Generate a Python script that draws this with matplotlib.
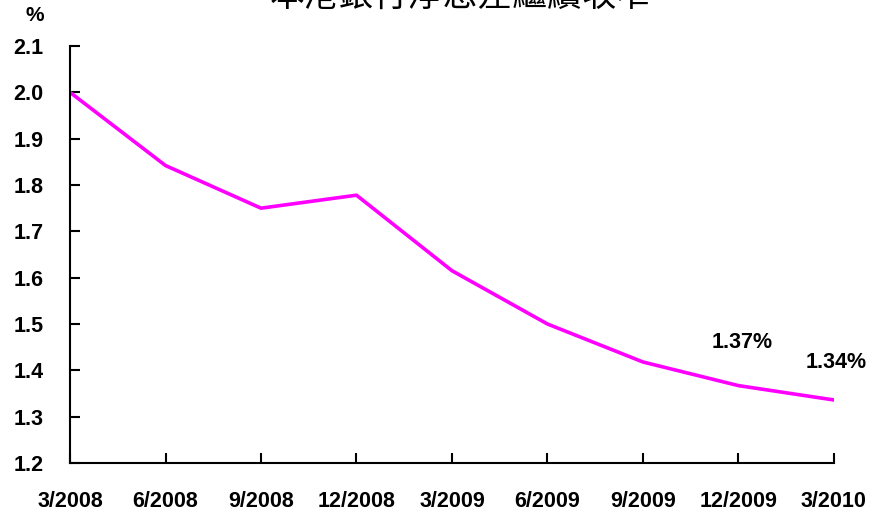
import matplotlib
matplotlib.use('Agg')
import matplotlib.pyplot as plt

plt.rcParams['font.family'] = ['Liberation Sans', 'DejaVu Sans']

quarters = ['3/2008', '6/2008', '9/2008', '12/2008', '3/2009', '6/2009', '9/2009', '12/2009', '3/2010']
margin = [2.00, 1.842, 1.75, 1.778, 1.615, 1.50, 1.418, 1.367, 1.336]
yticks = [1.2, 1.3, 1.4, 1.5, 1.6, 1.7, 1.8, 1.9, 2.0, 2.1]
title = '本港銀行淨息差繼續收窄'
labels = {7: '1.37%', 8: '1.34%'}

fig = plt.figure(figsize=(8.71, 5.13), dpi=100)
ax = fig.add_axes([0.0804, 0.0975, 0.877, 0.8128])

x = list(range(len(quarters)))
ax.plot(x, margin, color='#ff00ff', lw=2.6, solid_joinstyle='round')

ax.set_xlim(0, len(quarters) - 1)
ax.set_ylim(1.2, 2.1)
ax.set_xticks(x)
ax.set_xticklabels(quarters)
ax.set_yticks(yticks)
ax.set_yticklabels(['%.1f' % v for v in yticks])

for s in ['top', 'right']:
    ax.spines[s].set_visible(False)
for s in ['left', 'bottom']:
    ax.spines[s].set_linewidth(1.5)

ax.tick_params(axis='both', direction='in', length=7, width=1.5, labelsize=15.5)
ax.tick_params(axis='x', pad=20)
ax.tick_params(axis='y', pad=19)
for t in ax.get_xticklabels() + ax.get_yticklabels():
    t.set_fontweight('bold')

# value labels
ax.annotate(labels[7], (7, margin[7]), xytext=(3, 31), textcoords='offset points',
            ha='center', va='center', fontsize=15.5, fontweight='bold')
ax.annotate(labels[8], (8, margin[8]), xytext=(2, 27), textcoords='offset points',
            ha='center', va='center', fontsize=15.5, fontweight='bold')

fig.text(0.04, 0.97, '%', ha='center', va='center', fontsize=15, fontweight='bold')
fig.text(0.529, 0.988, title, ha='center', va='baseline', fontsize=25,
         family=['Noto Sans CJK TC', 'DejaVu Sans'])

fig.savefig('out.png', dpi=100)
